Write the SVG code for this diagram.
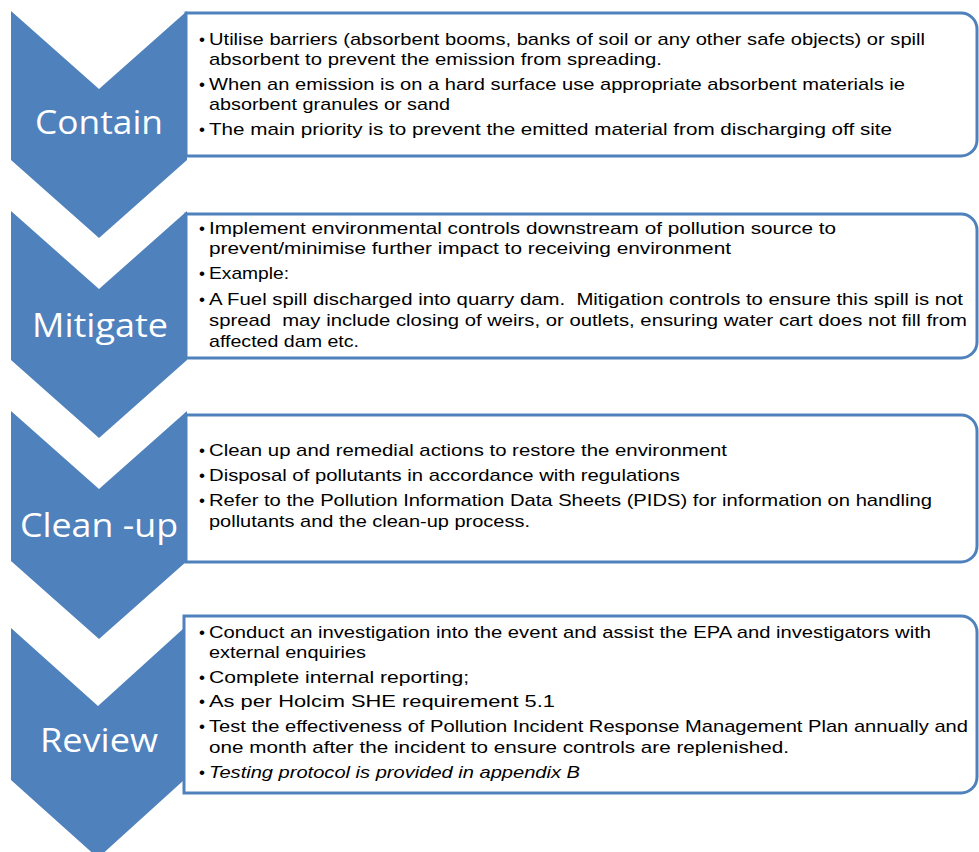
<svg xmlns="http://www.w3.org/2000/svg" width="979" height="852" viewBox="0 0 979 852">
<style>
.chev{fill:#4F81BD}
.box{fill:#FFFFFF;stroke:#4F81BD;stroke-width:3}
.lbl{font-family:"Open Sans","Noto Sans",sans-serif;font-size:32px;fill:#FFFFFF;text-anchor:middle}
.t{font-family:"Liberation Sans",Arial,sans-serif;font-size:17px;fill:#000000;white-space:pre}
.b{font-family:"Liberation Sans",Arial,sans-serif;font-size:17px;fill:#000000}
.i{font-style:italic}
</style>
<rect x="0" y="0" width="979" height="852" fill="#FFFFFF"/>
<g id="connectors"/>
<g id="contain">
<path class="box" d="M186,13 H961 A16,16 0 0 1 977,29 V140 A16,16 0 0 1 961,156 H186 Z"/>
<path class="chev" d="M11,11 L99,89 L187,11 L187,160 L99,238 L11,160 Z"/>
<text class="lbl" x="99" y="134" textLength="128" lengthAdjust="spacingAndGlyphs">Contain</text>
<text class="b" x="199" y="45">•</text><text class="t" x="209" y="45" textLength="716" lengthAdjust="spacingAndGlyphs">Utilise barriers (absorbent booms, banks of soil or any other safe objects) or spill</text>
<text class="t" x="209" y="65" textLength="453" lengthAdjust="spacingAndGlyphs">absorbent to prevent the emission from spreading.</text>
<text class="b" x="199" y="90">•</text><text class="t" x="209" y="90" textLength="696" lengthAdjust="spacingAndGlyphs">When an emission is on a hard surface use appropriate absorbent materials ie</text>
<text class="t" x="209" y="110" textLength="241" lengthAdjust="spacingAndGlyphs">absorbent granules or sand</text>
<text class="b" x="199" y="135">•</text><text class="t" x="209" y="135" textLength="683" lengthAdjust="spacingAndGlyphs">The main priority is to prevent the emitted material from discharging off site</text>
</g>
<g id="mitigate">
<path class="box" d="M186,214 H961 A16,16 0 0 1 977,230 V342 A16,16 0 0 1 961,358 H186 Z"/>
<path class="chev" d="M11,211 L99,289 L187,211 L187,360 L99,438 L11,360 Z"/>
<text class="lbl" x="100" y="337" textLength="136" lengthAdjust="spacingAndGlyphs">Mitigate</text>
<text class="b" x="199" y="234">•</text><text class="t" x="209" y="234" textLength="627" lengthAdjust="spacingAndGlyphs">Implement environmental controls downstream of pollution source to</text>
<text class="t" x="209" y="254" textLength="522" lengthAdjust="spacingAndGlyphs">prevent/minimise further impact to receiving environment</text>
<text class="b" x="199" y="279">•</text><text class="t" x="209" y="279" textLength="80" lengthAdjust="spacingAndGlyphs">Example:</text>
<text class="b" x="199" y="305">•</text><text class="t" x="209" y="305" textLength="754" lengthAdjust="spacingAndGlyphs">A Fuel spill discharged into quarry dam.  Mitigation controls to ensure this spill is not</text>
<text class="t" x="209" y="326" textLength="758" lengthAdjust="spacingAndGlyphs">spread  may include closing of weirs, or outlets, ensuring water cart does not fill from</text>
<text class="t" x="209" y="347" textLength="150" lengthAdjust="spacingAndGlyphs">affected dam etc.</text>
</g>
<g id="cleanup">
<path class="box" d="M186,415 H961 A16,16 0 0 1 977,431 V546 A16,16 0 0 1 961,562 H186 Z"/>
<path class="chev" d="M11,411 L99,489 L187,411 L187,561 L99,639 L11,561 Z"/>
<text class="lbl" x="99" y="537" textLength="158" lengthAdjust="spacingAndGlyphs">Clean -up</text>
<text class="b" x="199" y="456">•</text><text class="t" x="209" y="456" textLength="518" lengthAdjust="spacingAndGlyphs">Clean up and remedial actions to restore the environment</text>
<text class="b" x="199" y="481">•</text><text class="t" x="209" y="481" textLength="471" lengthAdjust="spacingAndGlyphs">Disposal of pollutants in accordance with regulations</text>
<text class="b" x="199" y="506">•</text><text class="t" x="209" y="506" textLength="723" lengthAdjust="spacingAndGlyphs">Refer to the Pollution Information Data Sheets (PIDS) for information on handling</text>
<text class="t" x="209" y="527" textLength="321" lengthAdjust="spacingAndGlyphs">pollutants and the clean-up process.</text>
</g>
<g id="review">
<path class="box" d="M184,616 H961 A16,16 0 0 1 977,632 V777 A16,16 0 0 1 961,793 H184 Z"/>
<path class="chev" d="M11,628 L98,706 L184,628 L184,780 L98,858 L11,780 Z"/>
<text class="lbl" x="99" y="752" textLength="118" lengthAdjust="spacingAndGlyphs">Review</text>
<text class="b" x="199" y="638">•</text><text class="t" x="209" y="638" textLength="722" lengthAdjust="spacingAndGlyphs">Conduct an investigation into the event and assist the EPA and investigators with</text>
<text class="t" x="209" y="658" textLength="157" lengthAdjust="spacingAndGlyphs">external enquiries</text>
<text class="b" x="199" y="683">•</text><text class="t" x="209" y="683" textLength="260" lengthAdjust="spacingAndGlyphs">Complete internal reporting;</text>
<text class="b" x="199" y="707">•</text><text class="t" x="209" y="707" textLength="346" lengthAdjust="spacingAndGlyphs">As per Holcim SHE requirement 5.1</text>
<text class="b" x="199" y="732">•</text><text class="t" x="209" y="732" textLength="759" lengthAdjust="spacingAndGlyphs">Test the effectiveness of Pollution Incident Response Management Plan annually and</text>
<text class="t" x="209" y="753" textLength="580" lengthAdjust="spacingAndGlyphs">one month after the incident to ensure controls are replenished.</text>
<text class="b" x="199" y="778">•</text><text class="t i" x="209" y="778" textLength="371" lengthAdjust="spacingAndGlyphs">Testing protocol is provided in appendix B</text>
</g>
</svg>
